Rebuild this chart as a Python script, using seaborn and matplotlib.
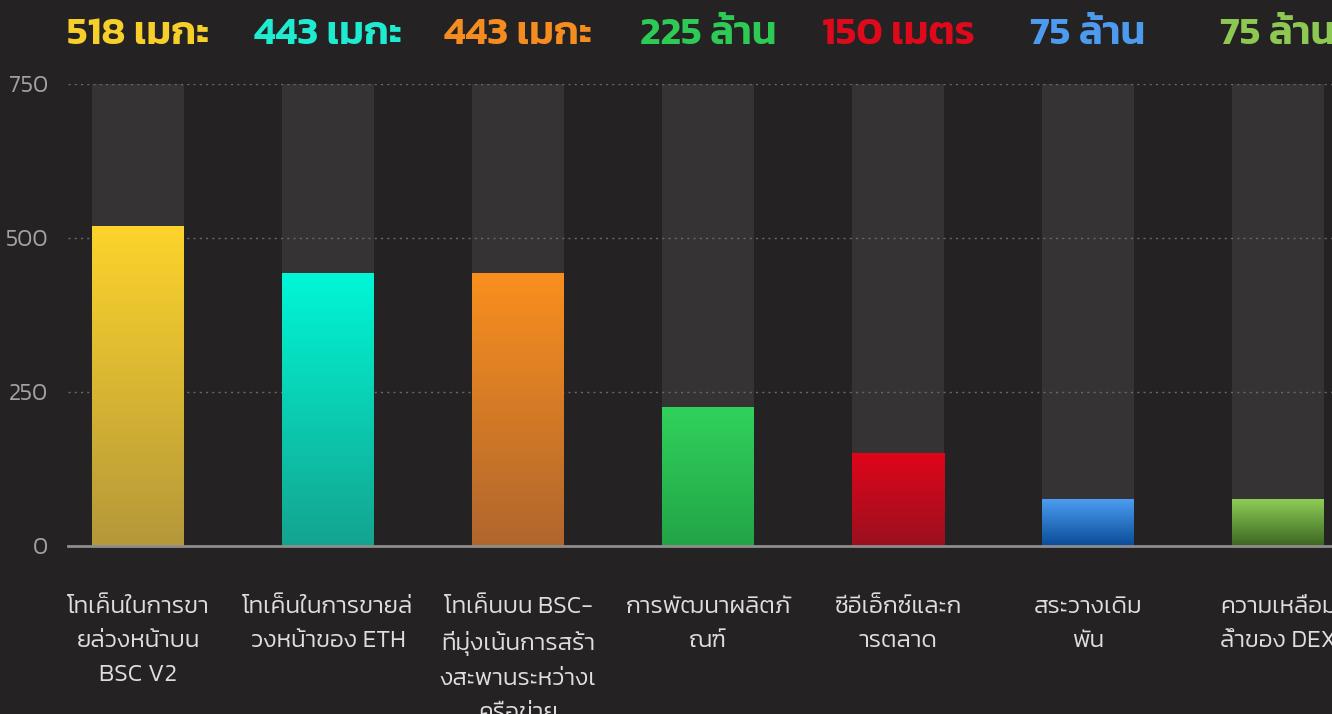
import matplotlib
matplotlib.use("Agg")
import matplotlib.pyplot as plt
import matplotlib.transforms as mtransforms
from matplotlib import font_manager
from matplotlib.colors import LinearSegmentedColormap
import numpy as np
import pandas as pd
import seaborn as sns

# ---------------- data ----------------
categories = [
    "โทเค็นในการขา\nยล่วงหน้าบน\nBSC V2",
    "โทเค็นในการขายล่\nวงหน้าของ ETH",
    "โทเค็นบน BSC-\nที่มุ่งเน้นการสร้า\nงสะพานระหว่างเ\nครือข่าย",
    "การพัฒนาผลิตภั\nณฑ์",
    "ซีอีเอ็กซ์และก\nารตลาด",
    "สระวางเดิม\nพัน",
    "ความเหลื่อม\nล้ำของ DEX",
]
values = [518, 443, 443, 225, 150, 75, 75]
value_labels = ["518 เมกะ", "443 เมกะ", "443 เมกะ", "225 ล้าน", "150 เมตร", "75 ล้าน", "75 ล้าน"]
axis_max = 750
y_ticks = [0, 250, 500, 750]

label_colors = ["#F7CF2A", "#1EEBD0", "#F48C20", "#2DCB55", "#DE0A1C", "#4C9BEF", "#8CC852"]
grad_top = ["#FDD42B", "#00F7D6", "#F98F1E", "#30D25B", "#E0051A", "#4C9DF2", "#8DCD57"]
grad_bot = ["#B4983A", "#14A48F", "#B0662E", "#22A447", "#9A101F", "#0A4C98", "#3C6722"]

BG = "#252223"
TRACK = "#363334"

# ---------------- fonts ----------------
def pick(fams):
    for f in fams:
        try:
            font_manager.findfont(font_manager.FontProperties(family=f), fallback_to_default=False)
            return f
        except Exception:
            pass
    return "DejaVu Sans"

thai = pick(["Kanit", "Prompt", "Mitr", "Sarabun", "Noto Sans Thai", "Loma"])

sns.set_theme(style="dark")
plt.rcParams["font.family"] = [thai, "DejaVu Sans"]

df = pd.DataFrame({"cat": categories, "val": values, "track": [axis_max] * len(values)})

fig = plt.figure(figsize=(13.32, 7.14), dpi=100, facecolor=BG)
W, H = 1332, 714
ax = fig.add_axes([68 / W, (H - 546) / H, (W - 68) / W, (546 - 84) / H])
ax.set_facecolor(BG)

bw = 92 / 190
sns.barplot(data=df, x="cat", y="track", color=TRACK, width=bw, ax=ax,
            saturation=1, zorder=1, linewidth=0)
n0 = len(ax.patches)
sns.barplot(data=df, x="cat", y="val", color="white", width=bw, ax=ax,
            saturation=1, zorder=3, linewidth=0)
bars = ax.patches[n0:]

for p in ax.patches[:n0]:
    p.set_facecolor(TRACK)
    p.set_edgecolor("none")

grad = np.linspace(0, 1, 256)[:, None]
for p, ct, cb in zip(bars, grad_top, grad_bot):
    x0, y0, w, h = p.get_x(), p.get_y(), p.get_width(), p.get_height()
    cmap = LinearSegmentedColormap.from_list("g", [cb, ct])
    ax.imshow(grad, extent=[x0, x0 + w, y0, y0 + h], origin="lower", cmap=cmap,
              aspect="auto", zorder=3, interpolation="bicubic")
    p.set_visible(False)

xmin = (68 - 138) / 190
xmax = (1332 - 138) / 190
ax.set_xlim(xmin, xmax)
ax.set_ylim(0, axis_max)
ax.set_aspect("auto")

# grid
ax.set_yticks(y_ticks)
ax.yaxis.grid(True, linestyle=(0, (1.5, 3)), color="#6a6868", linewidth=1.0, zorder=0)
ax.xaxis.grid(False)
ax.set_axisbelow(False)
for gl in ax.get_ygridlines():
    gl.set_zorder(2)
for s in ["top", "right", "left"]:
    ax.spines[s].set_visible(False)
ax.spines["bottom"].set_visible(True)
ax.spines["bottom"].set_color("#8e8c8c")
ax.spines["bottom"].set_linewidth(2)
ax.spines["bottom"].set_zorder(5)

ax.tick_params(axis="y", length=0, pad=14, labelsize=17, labelcolor="#a3a1a1")
ax.tick_params(axis="x", length=0, pad=36, labelsize=17.5, labelcolor="#dedede")
for t in ax.get_yticklabels():
    t.set_fontweight(300)
for t in ax.get_xticklabels():
    t.set_linespacing(1.7)
    t.set_ha("center")
    t.set_fontweight(300)
ax.set_xlabel("")
ax.set_ylabel("")

trans = mtransforms.blended_transform_factory(ax.transData, ax.transAxes)
for i, (lab, col) in enumerate(zip(value_labels, label_colors)):
    ax.text(i, (546 - 35) / 462, lab, transform=trans, ha="center", va="center",
            color=col, fontsize=28.5, fontweight="semibold", clip_on=False)

fig.savefig("out.png", dpi=100, facecolor=BG)
